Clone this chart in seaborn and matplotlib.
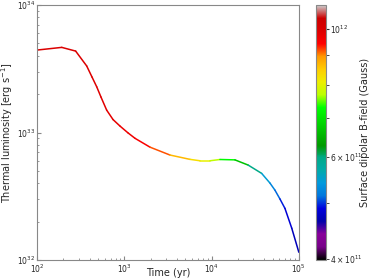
import numpy as np
import matplotlib
matplotlib.use("Agg")
import matplotlib.pyplot as plt
import seaborn as sns
from matplotlib.collections import LineCollection
from matplotlib.colors import LogNorm

# time (yr), log10 thermal luminosity (erg/s), surface dipolar field (G)
time_yr = [100, 192, 277, 371, 427, 483, 541, 628, 743, 893, 1101, 1327,
           1967, 3337, 5660, 7370, 9590, 12480, 18540, 26300, 37500, 46700,
           53200, 60700, 69300, 83000, 100000]
log_lum = [33.647, 33.668, 33.639, 33.522, 33.435, 33.359, 33.278, 33.176,
           33.102, 33.051, 32.998, 32.955, 32.886, 32.824, 32.790, 32.779,
           32.779, 32.789, 32.786, 32.745, 32.680, 32.604, 32.549, 32.480,
           32.406, 32.250, 32.062]
b_field = [1.0e12, 1.0e12, 1.0e12, 0.995e12, 0.993e12, 0.99e12, 0.99e12,
           0.985e12, 0.98e12, 0.975e12, 0.97e12, 0.96e12, 0.94e12, 0.90e12,
           0.84e12, 0.82e12, 0.79e12, 0.76e12, 0.70e12, 0.64e12, 0.56e12,
           0.53e12, 0.52e12, 0.50e12, 0.49e12, 0.478e12, 0.465e12]
b_min, b_max = 3.98e11, 1.1e12

sns.set_style("ticks")
plt.rcParams["font.family"] = ["DejaVu Sans"]

t = np.array(time_yr, dtype=float)
lum = 10 ** np.array(log_lum)
b = np.array(b_field)

fig = plt.figure(figsize=(3.74, 2.80), dpi=100)
ax = fig.add_axes([0.099, 0.071, 0.700, 0.911])
cax = fig.add_axes([0.845, 0.071, 0.027, 0.911])

pts = np.column_stack([t, lum]).reshape(-1, 1, 2)
segs = np.concatenate([pts[:-1], pts[1:]], axis=1)
norm = LogNorm(vmin=b_min, vmax=b_max)
lc = LineCollection(segs, cmap="nipy_spectral", norm=norm, linewidth=1.1,
                    capstyle="round", joinstyle="round")
lc.set_array(np.sqrt(b[:-1] * b[1:]))
ax.add_collection(lc)

ax.set_xscale("log")
ax.set_yscale("log")
ax.set_xlim(1e2, 1e5)
ax.set_ylim(1e32, 1e34)
ax.set_xlabel("Time (yr)", fontsize=7)
ax.set_ylabel("Thermal luminosity [erg s$^{-1}$]", fontsize=7)
ax.xaxis.set_label_coords(0.5, -0.03)
ax.yaxis.set_label_coords(-0.083, 0.5)
ax.tick_params(which="both", direction="in", labelsize=5.5, pad=1.5,
               color="#888888")
ax.tick_params(which="major", length=3)
ax.tick_params(which="minor", length=1.5)
for s in ax.spines.values():
    s.set_color("#888888")
    s.set_linewidth(0.8)

cb = fig.colorbar(lc, cax=cax)
cb.set_label("Surface dipolar B-field (Gauss)", fontsize=7)
cb.ax.yaxis.set_label_coords(4.4, 0.5)
cb.ax.tick_params(which="both", labelsize=5.5, length=2, pad=1)
cb.outline.set_edgecolor("#888888")
cb.outline.set_linewidth(0.8)

fig.savefig("out.png", dpi=100)
